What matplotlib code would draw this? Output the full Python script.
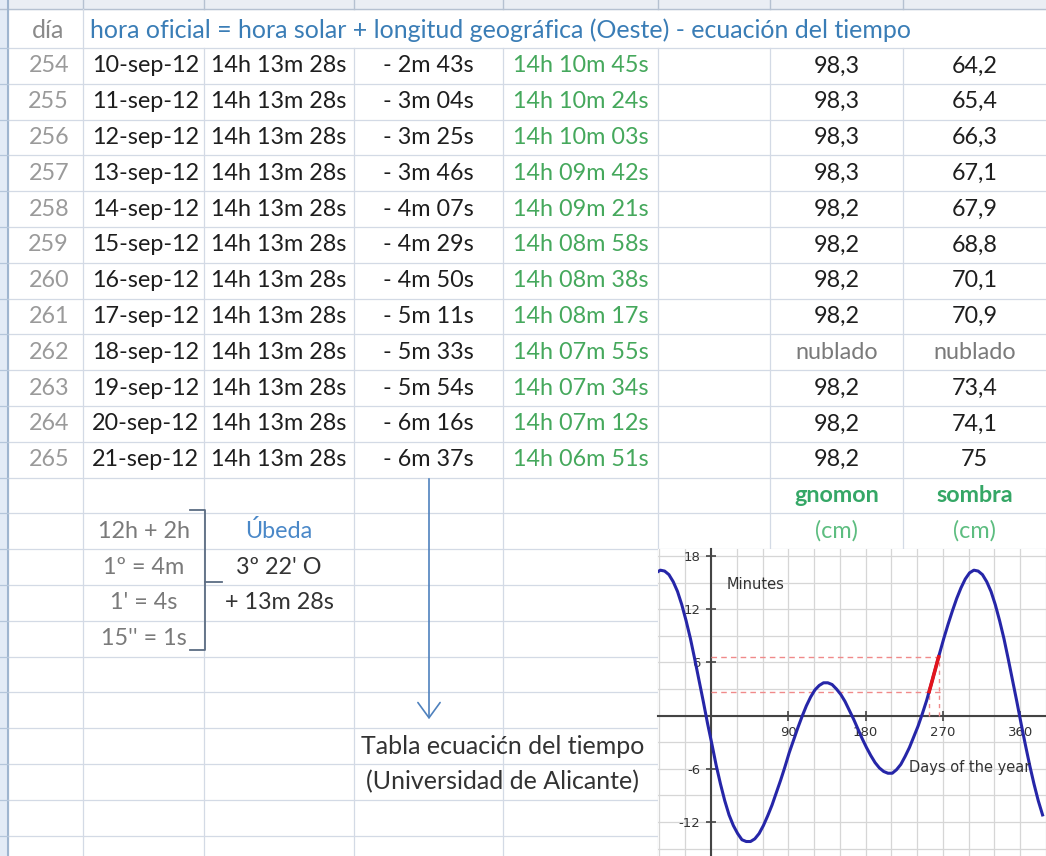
import matplotlib
matplotlib.use("Agg")
import matplotlib.pyplot as plt
from matplotlib.patches import Rectangle

plt.rcParams['axes.unicode_minus'] = False

# ---------------- data ----------------
day_of_year = [254, 255, 256, 257, 258, 259, 260, 261, 262, 263, 264, 265]
dates = ["10-sep-12", "11-sep-12", "12-sep-12", "13-sep-12", "14-sep-12", "15-sep-12",
         "16-sep-12", "17-sep-12", "18-sep-12", "19-sep-12", "20-sep-12", "21-sep-12"]
solar_plus_longitude = ["14h 13m 28s"] * 12
equation_of_time = ["- 2m 43s", "- 3m 04s", "- 3m 25s", "- 3m 46s", "- 4m 07s", "- 4m 29s",
                    "- 4m 50s", "- 5m 11s", "- 5m 33s", "- 5m 54s", "- 6m 16s", "- 6m 37s"]
official_time = ["14h 10m 45s", "14h 10m 24s", "14h 10m 03s", "14h 09m 42s", "14h 09m 21s",
                 "14h 08m 58s", "14h 08m 38s", "14h 08m 17s", "14h 07m 55s", "14h 07m 34s",
                 "14h 07m 12s", "14h 06m 51s"]
gnomon_cm = ["98,3", "98,3", "98,3", "98,3", "98,2", "98,2", "98,2", "98,2", "nublado",
             "98,2", "98,2", "98,2"]
shadow_cm = ["64,2", "65,4", "66,3", "67,1", "67,9", "68,8", "70,1", "70,9", "nublado",
             "73,4", "74,1", "75"]
header_day = "día"
header_formula = "hora oficial = hora solar + longitud geográfica (Oeste) - ecuación del tiempo"
unit_headers = ["gnomon", "sombra"]
unit_labels = ["(cm)", "(cm)"]
notes_left = ["12h + 2h", "1º = 4m", "1' = 4s", "15'' = 1s"]
notes_city = ["Úbeda", "3º 22' O", "+ 13m 28s"]
source_lines = ["Tabla ecuacićn del tiempo", "(Universidad de Alicante)"]

# equation of time curve (day of year, minutes)
curve_days = [-64, -59, -54, -49, -44, -39, -34, -29, -24, -19, -14, -9, -4,
              1, 6, 11, 16, 21, 26, 31, 36, 41, 46, 51, 56, 61, 66, 71, 76, 81, 86,
              91, 96, 101, 106, 111, 116, 121, 126, 131, 136, 141, 146, 151, 156, 161,
              166, 171, 176, 181, 186, 191, 196, 201, 206, 211, 216, 221, 226, 231, 236,
              241, 246, 251, 256, 261, 266, 271, 276, 281, 286, 291, 296, 301, 306, 311,
              316, 321, 326, 331, 336, 341, 346, 351, 356, 361, 366, 371, 376, 381, 386]
curve_minutes = [16.1, 16.4, 16.3, 15.9, 15.1, 14.0, 12.5, 10.7, 8.7, 6.4, 4.0, 1.6, -0.9,
                 -3.2, -5.6, -7.7, -9.6, -11.2, -12.4, -13.3, -14.0, -14.2, -14.2, -13.9,
                 -13.3, -12.4, -11.3, -10.1, -8.7, -7.3, -5.8,
                 -4.2, -2.8, -1.4, -0.1, 1.1, 2.1, 2.9, 3.4, 3.7, 3.7, 3.5, 3.0, 2.4, 1.6, 0.6,
                 -0.4, -1.5, -2.6, -3.6, -4.5, -5.3, -5.9, -6.3, -6.5, -6.5, -6.1, -5.5, -4.6,
                 -3.6, -2.4,
                 -1.2, 0.2, 1.7, 3.42, 5.2, 6.98, 8.7, 10.3, 11.8, 13.2, 14.4, 15.4, 16.1,
                 16.4, 16.3,
                 15.9, 15.1, 14.0, 12.5, 10.7, 8.7, 6.4, 4.0, 1.6, -0.9, -3.3, -5.6, -7.7,
                 -9.6, -11.2]
y_ticks = [-12, -6, 6, 12, 18]
x_ticks = [90, 180, 270, 360]
y_label = "Minutes"
x_label = "Days of the year"


def eot_minutes(s):
    parts = s.replace("-", "").split()
    return int(parts[0][:-1]) + int(parts[1][:-1]) / 60.0


table_eot = [eot_minutes(s) for s in equation_of_time]

# ---------------- layout ----------------
W, H = 1046, 856
DPI = 100
FAM = ["Lato", "DejaVu Sans"]

fig = plt.figure(figsize=(W / DPI, H / DPI), dpi=DPI)
bg = fig.add_axes([0, 0, 1, 1])
bg.set_xlim(0, W)
bg.set_ylim(H, 0)
bg.axis("off")

renderer = fig.canvas.get_renderer()


def fit_size(text, width_px):
    t = fig.text(0, 0, text, fontsize=10, family=FAM)
    w = t.get_window_extent(renderer).width
    t.remove()
    return 10.0 * width_px / w


FS_HEAD = fit_size(header_formula, 823)
FS = fit_size(solar_plus_longitude[0], 136)

col_x = [8, 83, 204, 354, 503, 658, 770, 903, W]
header_top, header_bot = 9, 48
row_h = 35.8
n_rows = 23


def row_y(k):
    return header_bot + row_h * (k + 0.5)


grid_c = "#d3dae5"
# top band & left band
bg.add_patch(Rectangle((0, 0), W, header_top, color="#eaeef4", zorder=0))
bg.plot([0, W], [header_top, header_top], color="#b5c1d1", lw=1, zorder=1)
for x in col_x[1:-1]:
    bg.plot([x, x], [0, header_top], color="#b5c1d1", lw=1, zorder=1)
bg.add_patch(Rectangle((0, 0), col_x[0], H, color="#e3ebf6", zorder=0))
bg.plot([col_x[0], col_x[0]], [0, H], color="#9fb5cf", lw=1.5, zorder=1)

# row lines
for k in range(n_rows + 1):
    y = header_bot + row_h * k
    bg.plot([col_x[0], W], [y, y], color=grid_c, lw=0.9, zorder=1)
    bg.plot([0, col_x[0]], [y, y], color="#b5c6db", lw=0.9, zorder=1)
# column lines
for x in col_x[1:-1]:
    bg.plot([x, x], [header_bot, H], color=grid_c, lw=0.9, zorder=1)
bg.plot([col_x[1], col_x[1]], [header_top, header_bot], color=grid_c, lw=0.9, zorder=1)


def cell(x, y, s, color="#1e1e1e", ha="center", weight="normal", size=None):
    bg.text(x, y, s, color=color, ha=ha, va="center", family=FAM,
            fontsize=size or FS, weight=weight, zorder=5)


def ccenter(i):
    return (col_x[i] + col_x[i + 1]) / 2.0


# header
cell(ccenter(0) + 3, (header_top + header_bot) / 2 + 2, header_day, color="#8a8a8a",
     size=FS_HEAD)
cell(90, (header_top + header_bot) / 2 + 2, header_formula, color="#3a7db6", ha="left",
     size=FS_HEAD)

for k in range(len(day_of_year)):
    y = row_y(k)
    cell(69, y, str(day_of_year[k]), color="#9a9a9a", ha="right")
    cell(199, y, dates[k], ha="right")
    cell(ccenter(2), y, solar_plus_longitude[k])
    cell(ccenter(3), y, equation_of_time[k])
    cell(ccenter(4), y, official_time[k], color="#45a85c")
    gcol = "#7a7a7a" if gnomon_cm[k] == "nublado" else "#1e1e1e"
    scol = "#7a7a7a" if shadow_cm[k] == "nublado" else "#1e1e1e"
    cell(ccenter(6), y, gnomon_cm[k], color=gcol)
    cell(ccenter(7), y, shadow_cm[k], color=scol)

k0 = len(day_of_year)
cell(ccenter(6), row_y(k0), unit_headers[0], color="#35a766", weight="bold")
cell(ccenter(7), row_y(k0), unit_headers[1], color="#35a766", weight="bold")
cell(ccenter(6), row_y(k0 + 1), unit_labels[0], color="#5dbd80")
cell(ccenter(7), row_y(k0 + 1), unit_labels[1], color="#5dbd80")

for i, s in enumerate(notes_left):
    cell(ccenter(1), row_y(k0 + 1 + i), s, color="#7a7a7a")
cell(ccenter(2), row_y(k0 + 1), notes_city[0], color="#4a88c8")
cell(ccenter(2), row_y(k0 + 2), notes_city[1], color="#333333")
cell(ccenter(2), row_y(k0 + 3), notes_city[2], color="#333333")

# bracket
br_c = "#5b6c82"
bg.plot([190, 205, 205, 190], [510, 510, 650, 650], color=br_c, lw=1.3, zorder=4)
bg.plot([205, 222], [582, 582], color=br_c, lw=1.3, zorder=4)

# arrow
bg.annotate("", xy=(429, 722), xytext=(429, 476),
            arrowprops=dict(arrowstyle="->,head_length=0.55,head_width=0.4",
                            color="#4f81bd", lw=1.2, mutation_scale=20), zorder=4)

cell(503, row_y(k0 + 7), source_lines[0], color="#333333", size=FS_HEAD)
cell(503, row_y(k0 + 8), source_lines[1], color="#333333", size=FS_HEAD)

# ---------------- inset chart ----------------
chart_left, chart_top = 658, 549
ax = fig.add_axes([chart_left / W, 0, (W - chart_left) / W, (H - chart_top) / H])
ax.set_facecolor("white")
px_day = 0.875
px_min = 8.867
x0_px, y0_px = 712, 715.6
ax.set_xlim((chart_left - x0_px) / px_day, (W - x0_px) / px_day)
ax.set_ylim((y0_px - H) / px_min, (y0_px - chart_top) / px_min)

ax.set_xticks(x_ticks)
ax.set_yticks(y_ticks)
ax.set_xticks(list(range(-60, 391, 30)), minor=True)
ax.set_yticks(list(range(-15, 19, 3)), minor=True)
ax.grid(True, which="both", color="#d6d6d6", lw=0.9, zorder=0)
ax.set_axisbelow(True)

for side in ("top", "right"):
    ax.spines[side].set_visible(False)
ax.spines["left"].set_position(("data", 0))
ax.spines["bottom"].set_position(("data", 0))
for side in ("left", "bottom"):
    ax.spines[side].set_color("#444444")
    ax.spines[side].set_linewidth(1.5)
    ax.spines[side].set_zorder(2)
ax.tick_params(which="major", direction="inout", length=7, width=1.2, color="#444444",
               labelsize=9.5, labelcolor="#333333", pad=4)
ax.tick_params(which="minor", length=0)

ax.plot(curve_days, curve_minutes, color="#2626a8", lw=2.2, zorder=3)
ax.plot(day_of_year, table_eot, color="#e3141c", lw=2.6, zorder=4)

guide_c = "#f08a8a"
guide_end = 270
for v in (table_eot[0], table_eot[-1]):
    ax.plot([0, guide_end], [v, v], color=guide_c, lw=1.0, ls=(0, (4, 3)), zorder=2.5)
ax.plot([day_of_year[0], day_of_year[0]], [0, table_eot[0]], color=guide_c, lw=1.0,
        ls=(0, (3, 3)), zorder=2.5)
ax.plot([day_of_year[-1], day_of_year[-1]], [0, table_eot[-1]], color=guide_c, lw=1.0,
        ls=(0, (3, 3)), zorder=2.5)

ax.text(18, 14.8, y_label, fontsize=10.5, color="#333333", va="center", ha="left")
ax.text(372, -5.9, x_label, fontsize=10.5, color="#333333", va="center", ha="right")

fig.savefig("out.png", dpi=DPI)
